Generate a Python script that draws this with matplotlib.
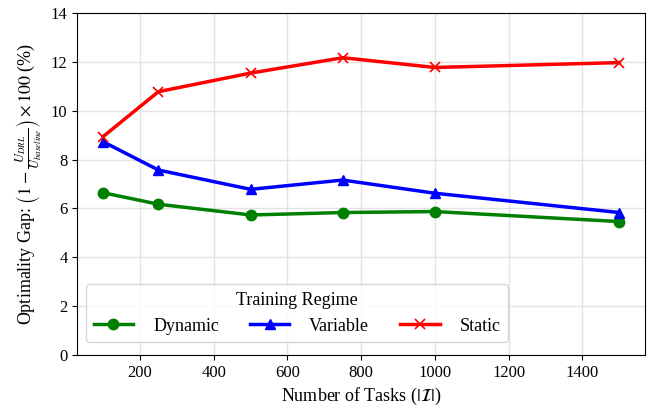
import matplotlib
matplotlib.use("Agg")
import matplotlib.pyplot as plt

plt.rcParams['font.family'] = ['Liberation Serif', 'DejaVu Serif']
plt.rcParams['mathtext.fontset'] = 'stix'

tasks = [100, 250, 500, 750, 1000, 1500]
dynamic = [6.64, 6.17, 5.73, 5.83, 5.87, 5.46]
variable = [8.73, 7.57, 6.78, 7.16, 6.62, 5.83]
static = [8.94, 10.78, 11.54, 12.17, 11.77, 11.97]

fig, ax = plt.subplots(figsize=(6.55, 4.07), dpi=100)
ax.plot(tasks, dynamic, color='green', marker='o', lw=2.5, ms=7.5, label='Dynamic')
ax.plot(tasks, variable, color='blue', marker='^', lw=2.5, ms=7.5, label='Variable')
ax.plot(tasks, static, color='red', marker='x', lw=2.5, ms=7, mew=1.2, label='Static')

ax.set_ylim(0, 14)
ax.set_yticks(range(0, 15, 2))
ax.grid(True, color='#dddddd', alpha=0.8, lw=1)
ax.tick_params(labelsize=12)
ax.set_xlabel(r'Number of Tasks ($|\mathcal{I}|$)', fontsize=13)
ax.set_ylabel(r'Optimality Gap: $\left(1-\frac{U_{DRL}}{U_{baseline}}\right)\times 100$ (%)', fontsize=13)
leg = ax.legend(title='Training Regime', ncol=3, loc='lower left', fontsize=13,
                title_fontsize=13, handlelength=2.2, columnspacing=1.7,
                handletextpad=1.1, bbox_to_anchor=(0.0, 0.012))
leg.get_frame().set_edgecolor('#cccccc')

fig.subplots_adjust(left=0.118, right=0.985, top=0.968, bottom=0.128)
fig.savefig('out.png', dpi=100)
